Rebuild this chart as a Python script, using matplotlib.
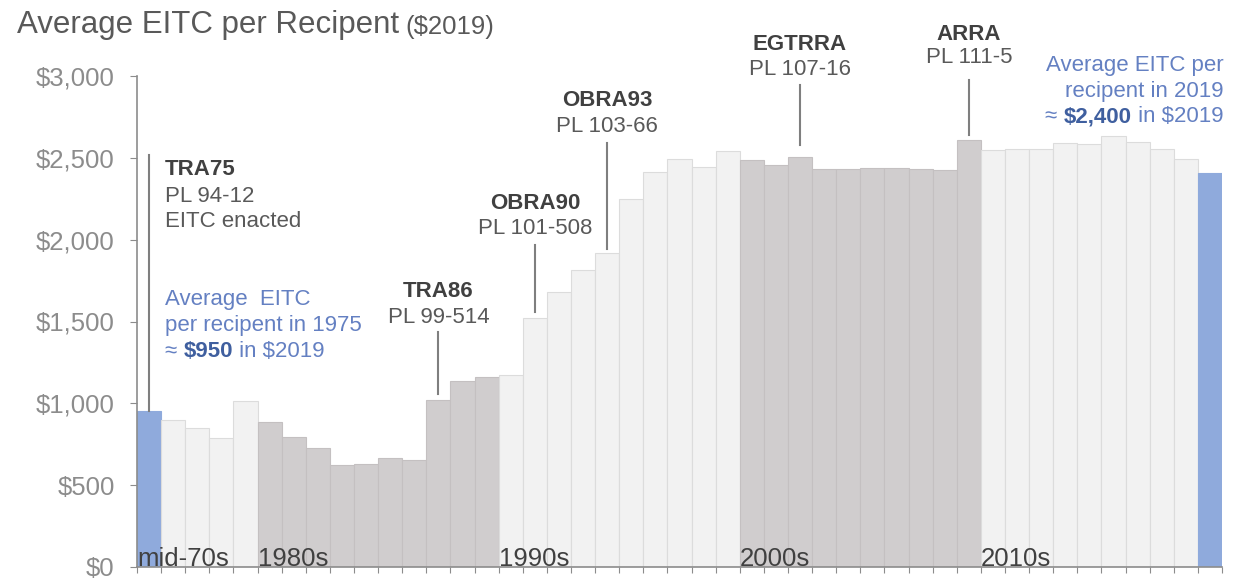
import numpy as np
import matplotlib
matplotlib.use("Agg")
import matplotlib.pyplot as plt

plt.rcParams["font.family"] = ["Liberation Sans", "DejaVu Sans"]

# average EITC per recipient, $2019
years = list(range(1975, 2020))
values = [953, 899, 852, 791, 1014,
          886, 797, 730, 622, 628, 663, 655, 1019, 1137, 1163,
          1171, 1523, 1679, 1814, 1920, 2249, 2414, 2493, 2444, 2544,
          2485, 2458, 2503, 2432, 2432, 2440, 2440, 2430, 2424, 2611,
          2550, 2556, 2556, 2591, 2585, 2631, 2595, 2556, 2493, 2408]

decade_labels = ["mid-70s", "1980s", "1990s", "2000s", "2010s"]
decade_starts = [1975, 1980, 1990, 2000, 2010]

# (year, act, public law, y of act name, y of PL, line top, line bottom)
events = [
    (1987, "TRA86", "PL 99-514", 1684, 1525, 1434, 1060),
    (1991, "OBRA90", "PL 101-508", 2220, 2068, 1970, 1556),
    (1994, "OBRA93", "PL 103-66", 2849, 2690, 2593, 1945),
    (2002, "EGTRRA", "PL 107-16", 3190, 3038, 2946, 2580),
    (2009, "ARRA", "PL 111-5", 3251, 3111, 2977, 2641),
]

BLUE = "#8faadc"
LIGHT = "#f2f2f2"
DARK = "#d0cdce"
TXT = "#404040"
ANNO_BLUE = "#6480c2"
FS = 16


def bar_color(y):
    if y in (1975, 2019):
        return BLUE
    if 1980 <= y <= 1989 or 2000 <= y <= 2009:
        return DARK
    return LIGHT


def edge_color(y):
    if y in (1975, 2019):
        return BLUE
    if 1980 <= y <= 1989 or 2000 <= y <= 2009:
        return "#c4c0c1"
    return "#dcdcdc"


fig = plt.figure(figsize=(12.37, 5.8), dpi=100)
ax = fig.add_axes([137 / 1237, 13 / 580, (1222 - 137) / 1237, (567 - 76) / 580])

ax.bar(years, values, width=1.0,
       color=[bar_color(y) for y in years],
       edgecolor=[edge_color(y) for y in years], linewidth=0.8, zorder=2)

ax.set_xlim(1974.5, 2019.5)
ax.set_ylim(0, 3000)
ax.set_yticks(np.arange(0, 3001, 500))
ax.set_yticklabels([f"\\${v:,.0f}" for v in np.arange(0, 3001, 500)],
                   fontsize=18.5, color="#8c8c8c")
ax.set_xticks(np.arange(1974.5, 2020, 1.0))
ax.set_xticklabels([])
ax.tick_params(axis="y", length=5, color="#8c8c8c", pad=11)
ax.tick_params(axis="x", length=4, color="#8c8c8c", direction="out")
for s in ["top", "right"]:
    ax.spines[s].set_visible(False)
for s in ["left", "bottom"]:
    ax.spines[s].set_color("#8c8c8c")
    ax.spines[s].set_linewidth(1.2)

# decade labels sitting on the baseline
for lab, start in zip(decade_labels, decade_starts):
    ax.text(start - 0.5, 8, lab, ha="left", va="baseline",
            fontsize=18.5, color=TXT, zorder=3)

# TRA75
ax.plot([1975, 1975], [values[0], 2519], color="#7f7f7f", lw=1.5, zorder=3)
ax.text(1975.66, 2428, "TRA75", ha="left", va="center", fontsize=FS,
        fontweight="bold", color=TXT)
ax.text(1975.66, 2263, "PL 94-12", ha="left", va="center", fontsize=FS, color="#595959")
ax.text(1975.66, 2111, "EITC enacted", ha="left", va="center", fontsize=FS, color="#595959")

# other acts
for yr, act, pl, y1, y2, ltop, lbot in events:
    ax.plot([yr, yr], [lbot, ltop], color="#7f7f7f", lw=1.5, zorder=3)
    ax.text(yr, y1, act, ha="center", va="center", fontsize=FS,
            fontweight="bold", color=TXT)
    ax.text(yr, y2, pl, ha="center", va="center", fontsize=FS, color="#595959")

# blue note, 1975
ax.text(1975.66, 1635, "Average  EITC", ha="left", va="center", fontsize=FS, color=ANNO_BLUE)
ax.text(1975.66, 1476, "per recipent in 1975", ha="left", va="center", fontsize=FS, color=ANNO_BLUE)
t1 = ax.text(1975.66, 1318, "\u2248 ", ha="left", va="center", fontsize=FS, color=ANNO_BLUE)
t2 = ax.annotate("\\$950", xy=(1, 0), xycoords=t1, ha="left", va="bottom",
                 fontsize=FS, fontweight="bold", color="#3f5f9f")
ax.annotate(" in \\$2019", xy=(1, 0), xycoords=t2, ha="left", va="bottom",
            fontsize=FS, color=ANNO_BLUE)

# blue note, 2019
ax.text(2019.55, 3062, "Average EITC per", ha="right", va="center", fontsize=FS,
        color=ANNO_BLUE, clip_on=False)
ax.text(2019.55, 2904, "recipent in 2019", ha="right", va="center", fontsize=FS,
        color=ANNO_BLUE, clip_on=False)
r1 = ax.text(2019.55, 2751, " in \\$2019", ha="right", va="center", fontsize=FS,
             color=ANNO_BLUE, clip_on=False)
r2 = ax.annotate("\\$2,400", xy=(0, 0), xycoords=r1, ha="right", va="bottom",
                 fontsize=FS, fontweight="bold", color="#3f5f9f")
ax.annotate("\u2248 ", xy=(0, 0), xycoords=r2, ha="right", va="bottom",
            fontsize=FS, color=ANNO_BLUE)

# title
tt = fig.text(17 / 1237, 1 - 25 / 580, "Average EITC per Recipent", ha="left",
              va="center", fontsize=22.5, color="#595959")
fig.canvas.draw()
bb = tt.get_window_extent()
fig.text(bb.x1 / fig.bbox.width + 0.005, 1 - 27 / 580, "(\\$2019)", ha="left",
         va="center", fontsize=18.5, color="#595959")

fig.savefig("out.png", dpi=100)
